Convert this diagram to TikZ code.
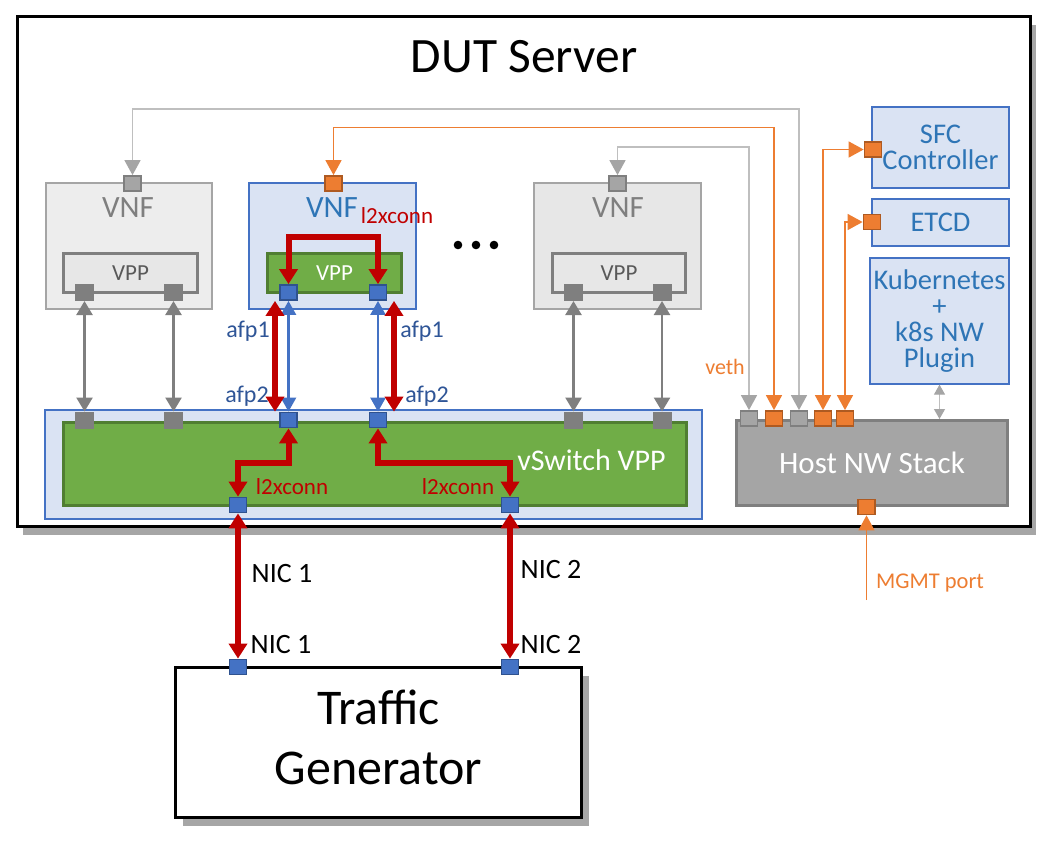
\documentclass[tikz,border=0pt]{standalone}
\usepackage{fontspec}
\setmainfont{Carlito}
\usetikzlibrary{arrows.meta}
\usetikzlibrary{shadows}
\usetikzlibrary{positioning}

\definecolor{lblue}{HTML}{DAE3F3}
\definecolor{mblue}{HTML}{4472C4}
\definecolor{dblue}{HTML}{2F528F}
\definecolor{tblue}{HTML}{2E75B6}
\definecolor{afpblue}{HTML}{2F5597}
\definecolor{vgreen}{HTML}{70AD47}
\definecolor{dgreen}{HTML}{507E32}
\definecolor{xred}{HTML}{C00000}
\definecolor{orng}{HTML}{ED7D31}
\definecolor{dorng}{HTML}{AE5A21}
\definecolor{gryA}{HTML}{EDEDED}
\definecolor{gryB}{HTML}{E7E7E7}
\definecolor{gryC}{HTML}{BFBFBF}
\definecolor{gryD}{HTML}{A5A5A5}
\definecolor{gryE}{HTML}{7F7F7F}
\definecolor{gryF}{HTML}{595959}

\tikzset{
  fnt/.style={font=\fontsize{#1}{#1}\selectfont},
  blk/.style={rectangle, inner sep=0pt},
  dutbox/.style={blk, draw=black, line width=3pt, fill=white,
    drop shadow={shadow xshift=5pt, shadow yshift=-8pt, opacity=0.35, fill=black}},
  vnfg/.style={blk, draw=gryD, line width=1.5pt},
  vnfb/.style={blk, draw=mblue, line width=1.3pt, fill=lblue},
  vppg/.style={blk, draw=gryE, line width=3pt, fill=gryB, text=gryF, fnt=23},
  vppv/.style={blk, draw=dgreen, line width=3pt, fill=vgreen, text=white, fnt=23},
  ctlbox/.style={blk, draw=mblue, line width=1.3pt, fill=lblue, text=tblue,
    align=center, font=\fontsize{28.5}{26}\selectfont},
  port/.style={rectangle, inner sep=0pt, line width=1.8pt, minimum width=17pt, minimum height=15pt},
  bport/.style={port, fill=mblue, draw=dblue},
  oport/.style={port, fill=orng, draw=dorng},
  gport/.style={port, fill=gryD, draw=gryE},
  kport/.style={port, fill=gryE, line width=0pt, minimum width=19pt, minimum height=17pt},
  redarr/.style={draw=xred, line width=6pt, >={Triangle[length=15pt,width=18pt]}},
  bluearr/.style={draw=mblue, line width=2.5pt, >={Triangle[length=14pt,width=15pt]}},
  grayarr/.style={draw=gryE, line width=2.5pt, >={Triangle[length=14pt,width=16pt]}},
  ctlg/.style={draw=gryC, line width=1.5pt, >={Triangle[length=15pt,width=16pt,color=gryD]}},
  ctlo/.style={draw=orng, line width=1.5pt, >={Triangle[length=15pt,width=16pt]}},
}

\begin{document}
\begin{tikzpicture}[x=1pt, y=-1pt]
\useasboundingbox (0,0) rectangle (1044,852);

\node[dutbox, minimum width=1013pt, minimum height=510pt] (dut) at (524,271.5) {};
\node[fnt=49.5] (title) at (524,57) {DUT Server};

\node[vnfg, fill=gryA, minimum width=166pt, minimum height=126pt] (vnfa) at (129,246) {};
\node[fnt=31, text=gryE] (vnfalab) at (128,207.5) {VNF};
\node[vppg, minimum width=134pt, minimum height=39pt] (vppa) at (130.5,273) {VPP};
\node[gport] (ta) at (132.5,183.5) {};
\node[kport] (pa1) at (84.5,292.5) {};
\node[kport] (pa2) at (173.5,292.5) {};

\node[vnfb, minimum width=167pt, minimum height=126pt] (vnfb) at (332.5,246) {};
\node[fnt=31, text=tblue] (vnfblab) at (332,207.5) {VNF};
\node[fnt=23, text=xred, anchor=base] (l2xa) at (397,223) {l2xconn};
\node[vppv, minimum width=134pt, minimum height=39pt] (vppb) at (334.5,273) {VPP};
\node[oport] (tb) at (333.5,183.5) {};
\node[bport] (pb1) at (288.5,292.5) {};
\node[bport] (pb2) at (378,292.5) {};

\node[vnfg, fill=gryB, minimum width=167pt, minimum height=126pt] (vnfc) at (617.5,246) {};
\node[fnt=31, text=gryE] (vnfclab) at (618,207.5) {VNF};
\node[vppg, minimum width=133pt, minimum height=39pt] (vppc) at (619,273) {VPP};
\node[gport] (tc) at (617.5,183.5) {};
\node[kport] (pc1) at (573.5,292.5) {};
\node[kport] (pc2) at (662,292.5) {};

\foreach \dx in {458,476,494}
  \fill (\dx,245) circle (4.3pt);

\node[vnfb, minimum width=657pt, minimum height=109pt] (vswout) at (373.5,464.5) {};
\node[blk, draw=dgreen, line width=3pt, fill=vgreen, minimum width=623pt, minimum height=83pt] (vsw) at (375,464) {};
\node[fnt=30, text=white, anchor=base] (vswlab) at (591.5,470) {vSwitch VPP};
\node[kport] (sa1) at (84.5,420) {};
\node[kport] (sa2) at (173.5,420) {};
\node[bport] (sb1) at (288.5,420) {};
\node[bport] (sb2) at (378,420) {};
\node[kport] (sc1) at (573.5,420) {};
\node[kport] (sc2) at (662,420) {};
\node[bport] (nic1) at (238,505) {};
\node[bport] (nic2) at (510,505) {};

\node[ctlbox, minimum width=137pt, minimum height=81pt] (sfc) at (940.5,147.5) {SFC\\Controller};
\node[ctlbox, minimum width=137pt, minimum height=47pt] (etcd) at (940.5,222.5) {ETCD};
\node[ctlbox, minimum width=139pt, minimum height=126pt] (k8s) at (939.5,321) {Kubernetes\\+\\k8s NW\\Plugin};
\node[oport] (sfcp) at (873,149.5) {};
\node[oport] (etcdp) at (872,222) {};

\node[blk, draw=gryE, line width=3pt, fill=gryD, text=white, fnt=31, minimum width=271pt, minimum height=85pt] (host) at (872,463) {Host NW Stack};
\node[gport] (hp1) at (749,418.5) {};
\node[oport] (hp2) at (774,418.5) {};
\node[gport] (hp3) at (799,418.5) {};
\node[oport] (hp4) at (823,418.5) {};
\node[oport] (hp5) at (845,418.5) {};
\node[oport] (hb) at (866.5,507) {};
\node[fnt=22, text=orng, anchor=base] (veth) at (725,374) {veth};
\node[fnt=22.5, text=orng, anchor=base] (mgmtlab) at (930,588) {MGMT port};
\coordinate (mgmt) at (866.5,600);

\node[blk, draw=black, line width=3.5pt, fill=white, minimum width=406pt, minimum height=150pt,
  drop shadow={shadow xshift=7pt, shadow yshift=-8pt, opacity=0.35, fill=black}] (tg) at (378.5,742.5) {};
\node[align=center, font=\fontsize{50}{60}\selectfont] (tglab) at (378.5,737) {Traffic\\Generator};
\node[bport] (tg1) at (238,667) {};
\node[bport] (tg2) at (510,667) {};

\node[fnt=28, anchor=base] (n1a) at (282,582) {NIC 1};
\node[fnt=28, anchor=base] (n1b) at (281,653) {NIC 1};
\node[fnt=28, anchor=base] (n2a) at (551,578) {NIC 2};
\node[fnt=28, anchor=base] (n2b) at (551,653) {NIC 2};
\node[fnt=24, text=afpblue, anchor=base] (afp1a) at (248,337) {afp1};
\node[fnt=24, text=afpblue, anchor=base] (afp1b) at (422,337) {afp1};
\node[fnt=24, text=afpblue, anchor=base] (afp2a) at (247,402) {afp2};
\node[fnt=24, text=afpblue, anchor=base] (afp2b) at (427,402) {afp2};
\node[fnt=23, text=xred, anchor=base] (l2xb) at (292,494) {l2xconn};
\node[fnt=23, text=xred, anchor=base] (l2xc) at (458,494) {l2xconn};

\coordinate (ya) at (0,109);
\coordinate (yb) at (0,127.5);
\coordinate (yc) at (0,147);
\coordinate (vlp) at (0,236.5);
\coordinate (slp) at (0,463);

\draw[ctlg, <->] (ta.north) -- (ta.north |- ya) -| (hp3.north);
\draw[ctlo, <->] (tb.north) -- (tb.north |- yb) -| (hp2.north);
\draw[ctlg, <->] (tc.north) -- (tc.north |- yc) -| (hp1.north);
\draw[ctlo, <->] (hp4.north) |- (sfcp.west);
\draw[ctlo, <->] (hp5.north) |- (etcdp.west);
\draw[ctlg, line width=1.2pt, >={Triangle[length=10pt,width=11pt,color=gryD]}, <->] (k8s.south) -- (k8s.south |- host.north);
\draw[ctlo, ->] (mgmt) -- (hb.south);

\draw[grayarr, <->] (pa1.south) -- (sa1.north);
\draw[grayarr, <->] (pa2.south) -- (sa2.north);
\draw[grayarr, <->] (pc1.south) -- (sc1.north);
\draw[grayarr, <->] (pc2.south) -- (sc2.north);

\draw[bluearr, <->] (pb1.south) -- (sb1.north);
\draw[bluearr, <->] (pb2.south) -- (sb2.north);
\draw[redarr, <->] ([xshift=-13.5pt]pb1.south) -- ([xshift=-13.5pt]sb1.north);
\draw[redarr, <->] ([xshift=16pt]pb2.south) -- ([xshift=16pt]sb2.north);

\draw[redarr, <->] (pb1.north) -- (pb1.north |- vlp) -| (pb2.north);
\draw[redarr, <->] (nic1.north) -- (nic1.north |- slp) -| (sb1.south);
\draw[redarr, <->] (sb2.south) -- (sb2.south |- slp) -| (nic2.north);

\draw[redarr, <->] (nic1.south) -- (tg1.north);
\draw[redarr, <->] (nic2.south) -- (tg2.north);
\end{tikzpicture}
\end{document}
